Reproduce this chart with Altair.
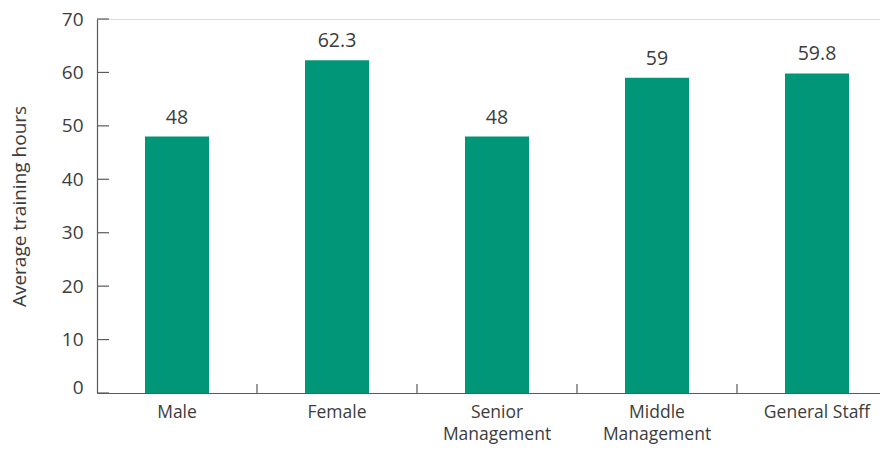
import altair as alt
import pandas as pd

categories = ["Male", "Female", "Senior Management", "Middle Management", "General Staff"]
values = [48, 62.3, 48, 59, 59.8]
y_ticks = [0, 10, 20, 30, 40, 50, 60, 70]

df = pd.DataFrame({"category": categories, "value": values})
tick_df = pd.DataFrame({"t": y_ticks})

FONT = "Open Sans"
TEXT = "#3c3c3c"
LINE = "#5a5a5a"
GREEN = "#009677"

x_scale = alt.Scale(domain=categories, paddingInner=0.6, paddingOuter=0.246875, align=0.6076)
y_scale = alt.Scale(domain=[0, 70], nice=False)

x_enc = alt.X(
    "category:N",
    scale=x_scale,
    sort=categories,
    axis=alt.Axis(
        title=None,
        labelAngle=0,
        ticks=False,
        tickSize=0,
        labelPadding=10,
        labelFont=FONT,
        labelFontSize=17.5,
        labelColor=TEXT,
        labelLineHeight=22,
        labelExpr="datum.label == 'General Staff' ? datum.label : split(datum.label, ' ')",
        domainColor=LINE,
        domainWidth=1.2,
    ),
)

y_enc = alt.Y(
    "value:Q",
    scale=y_scale,
    axis=alt.Axis(
        title="Average training hours",
        values=y_ticks,
        ticks=False,
        tickSize=0,
        grid=False,
        labelPadding=14,
        labelFont=FONT,
        labelFontSize=19,
        labelColor=TEXT,
        labelBaseline={"condition": {"test": "datum.value === 0", "value": "alphabetic"}, "value": "middle"},
        titleFont=FONT,
        titleFontSize=19,
        titleFontWeight="normal",
        titleColor=TEXT,
        titleX=-68,
        titleY=187,
        domainColor=LINE,
        domainWidth=1.2,
    ),
)

bars = alt.Chart(df).mark_bar(color=GREEN).encode(x=x_enc, y=y_enc)

labels = alt.Chart(df).mark_text(
    font=FONT, fontSize=19.5, color=TEXT, baseline="alphabetic", dy=-13
).encode(
    x=alt.X("category:N", scale=x_scale, sort=categories),
    y=alt.Y("value:Q", scale=y_scale),
    text=alt.Text("value:Q"),
)

x_ticks = alt.Chart(df).mark_rule(color=LINE, strokeWidth=1.2, xOffset=48).encode(
    x=alt.X("category:N", scale=x_scale, sort=categories, bandPosition=1),
    y=alt.datum(0, scale=y_scale),
    y2=alt.value(365),
)

y_tick_rules = alt.Chart(tick_df).mark_rule(color=LINE, strokeWidth=1.2).encode(
    y=alt.Y("t:Q", scale=y_scale),
    x=alt.value(0),
    x2=alt.value(12),
)

chart = alt.layer(bars, labels, x_ticks, y_tick_rules).properties(
    width=783,
    height=374,
    autosize=alt.AutoSizeParams(type="none"),
    padding={"left": 89, "top": 11, "right": 0, "bottom": 51},
).configure_view(stroke=None).configure(background="white")

chart.save("out.html", embed_options={"renderer": "svg", "actions": False})
